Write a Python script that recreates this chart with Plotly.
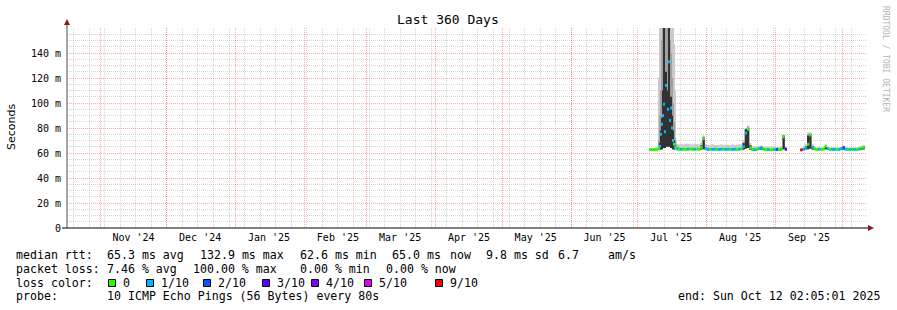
import numpy as np
import pandas as pd
import plotly.graph_objects as go

# ---------------- data ----------------
WINDOW_START = "2024-10-17 02:05:01"
WINDOW_DAYS = 360

# sample times (days after window start): daily, half-daily around the big spike
sample_days = ([263, 264, 265, 266]
               + [266.5, 267, 267.5, 268, 268.5, 269, 269.5, 270, 270.5,
                  271, 271.5, 272, 272.5, 273, 273.5, 274, 274.5, 275]
               + list(range(276, 360)))

N = None
median_ms = ([62.8, 62.7, 62.8, 62.9]
             + [63.5, 65.4, 75, 83, 90, 99, 77, 114, 95, 132.9, 86, 96, 80, 70, 67, 64.5, 63.5, 63.2]
             + [63.0, 62.9, 63.1, 62.8, 63.0, 63.2, 62.9, 63.0, 63.1, 62.9, 64.5, 71.5]
             + [63.5, 62.8, 62.9, 62.8, 63.0, 62.9, 62.8, 63.0, 62.9, 62.8, 63.0, 62.9]
             + [62.8, 63.0, 62.9, 63.0, 63.2, 65.0, 76.0, 79.0, 64.0, 62.8, 62.7, 62.8]
             + [63.5, 64.5, 63.0, 62.7, 62.8, 62.7, 62.8, 62.7, 62.8, 62.7, 63.0, 73.0]
             + [63.0, N, N, N, N, N, N, 62.5, 63.0, 64.5, 67.0, 74.5]
             + [64.5, 63.2, 62.8, 63.0, 62.8, 63.2, 65.5, 63.5, 62.8, 62.9, 62.8, 63.0]
             + [62.8, 63.5, 64.5, 63.0, 62.8, 62.8, 62.9, 62.8, 62.8, 63.2, 64.0, 64.8])

smoke_lo = ([62.4, 62.4, 62.4, 62.5]
            + [62.5, 62.8, 63, 63, 64, 64, 64, 65, 65, 66, 65, 64, 64, 63, 63, 62.8, 62.6, 62.6]
            + [62.5, 62.5, 62.6, 62.4, 62.5, 62.6, 62.5, 62.5, 62.6, 62.5, 62.8, 63.0]
            + [62.6, 62.4, 62.5, 62.4, 62.5, 62.5, 62.4, 62.5, 62.5, 62.4, 62.5, 62.5]
            + [62.4, 62.5, 62.5, 62.5, 62.6, 62.8, 63.5, 64.0, 62.6, 62.4, 62.3, 62.4]
            + [62.5, 62.8, 62.4, 62.3, 62.4, 62.3, 62.4, 62.3, 62.4, 62.3, 62.5, 63.0]
            + [62.5, N, N, N, N, N, N, 62.2, 62.5, 62.8, 63.0, 63.5]
            + [62.8, 62.5, 62.4, 62.5, 62.4, 62.5, 63.0, 62.6, 62.4, 62.5, 62.4, 62.5]
            + [62.4, 62.6, 62.8, 62.5, 62.4, 62.4, 62.5, 62.4, 62.4, 62.5, 62.8, 63.0])

smoke_core = ([63.2, 63.2, 63.2, 63.4]
              + [64, 68, 78, 88, 110, 170, 95, 125, 110, 170, 100, 105, 90, 78, 70, 66, 64, 63.5]
              + [63.5, 63.5, 63.6, 63.4, 63.5, 63.7, 63.4, 63.5, 63.6, 63.6, 66.0, 72.5]
              + [64.0, 63.4, 63.4, 63.4, 63.5, 63.4, 63.4, 63.5, 63.4, 63.4, 63.5, 63.4]
              + [63.4, 63.5, 63.4, 63.5, 63.8, 68.0, 79.0, 80.0, 66.0, 63.2, 63.2, 63.2]
              + [64.0, 64.8, 63.4, 63.2, 63.2, 63.2, 63.2, 63.2, 63.2, 63.2, 63.5, 74.0]
              + [64.0, N, N, N, N, N, N, 63.0, 63.5, 65.0, 74.0, 75.0]
              + [65.5, 63.5, 63.2, 63.3, 63.2, 63.5, 65.6, 63.6, 63.2, 63.3, 63.2, 63.3]
              + [63.2, 63.6, 64.5, 63.3, 63.2, 63.2, 63.3, 63.2, 63.2, 63.5, 64.0, 65.0])

smoke_mid = ([63.2, 63.2, 63.2, 63.4]
             + [70, 90, 110, 150, 170, 170, 170, 170, 170, 170, 150, 140, 120, 100, 85, 72, 67, 65]
             + [63.5, 63.5, 63.6, 63.4, 63.5, 63.7, 63.4, 63.5, 63.6, 63.6, 66.5, 73.0]
             + [64.0, 63.4, 63.4, 63.4, 63.5, 63.4, 63.4, 63.5, 63.4, 63.4, 63.5, 63.4]
             + [63.4, 63.5, 63.4, 63.5, 63.8, 68.5, 79.5, 81.0, 66.5, 63.2, 63.2, 63.2]
             + [64.0, 64.8, 63.4, 63.2, 63.2, 63.2, 63.2, 63.2, 63.2, 63.2, 63.5, 74.2]
             + [64.0, N, N, N, N, N, N, 63.0, 63.5, 65.5, 74.5, 75.5]
             + [65.5, 63.5, 63.2, 63.3, 63.2, 63.5, 65.6, 63.6, 63.2, 63.3, 63.2, 63.3]
             + [63.2, 63.6, 64.5, 63.3, 63.2, 63.2, 63.3, 63.2, 63.2, 63.5, 64.0, 65.0])

smoke_hi = ([63.6, 63.6, 63.8, 64.5]
            + [120, 170, 170, 170, 170, 170, 170, 170, 170, 170, 170, 170, 170, 170, 147, 110, 70, 67]
            + [67.0, 67.5, 67.0, 67.5, 67.5, 67.0, 67.0, 67.5, 67.0, 67.0, 69.0, 74.0]
            + [67.0, 66.5, 66.5, 67.0, 66.5, 66.5, 66.5, 67.0, 66.5, 66.5, 66.5, 66.5]
            + [67.0, 66.5, 66.5, 67.0, 67.0, 70.0, 80.0, 82.0, 68.0, 65.5, 65.5, 65.5]
            + [65.5, 65.5, 65.0, 65.0, 65.0, 65.0, 65.0, 65.0, 65.0, 65.0, 65.5, 74.5]
            + [65.0, N, N, N, N, N, N, 63.5, 64.5, 67.0, 76.5, 76.5]
            + [67.0, 65.0, 64.5, 64.5, 64.5, 64.5, 66.0, 64.5, 64.5, 64.5, 64.5, 64.5]
            + [64.5, 64.5, 65.0, 64.5, 64.5, 64.5, 64.5, 64.5, 64.5, 64.5, 65.0, 65.5])

# loss class index per sample (0 = no loss, 1 = 1/10, ... 6 = 9/10)
loss_class = ([0, 0, 0, 0]
              + [0, 1, 1, 1, 1, 1, 1, 1, 1, 1, 1, 1, 1, 1, 0, 1, 0, 1]
              + [0, 1, 0, 0, 1, 0, 0, 1, 0, 0, 0, 0]
              + [1, 1, 0, 1, 1, 0, 1, 1, 0, 1, 1, 0]
              + [1, 1, 0, 1, 0, 1, 1, 0, 0, 0, 1, 0]
              + [1, 1, 0, 0, 1, 0, 0, 1, 2, 0, 0, 0]
              + [3, N, N, N, N, N, N, 6, 1, 1, 0, 0]
              + [1, 0, 0, 1, 0, 0, 0, 1, 0, 1, 1, 0]
              + [1, 1, 2, 1, 0, 1, 0, 1, 0, 1, 0, 0])

LOSS_COLORS = ["#26ff00", "#00b8ff", "#0059ff", "#5e00ff", "#7e00ff", "#dd00ff", "#ff0000"]
LOSS_LABELS = ["0", "1/10", "2/10", "3/10", "4/10", "5/10", "9/10"]

Y_TICKS = [0, 20, 40, 60, 80, 100, 120, 140]
Y_TICK_TEXT = ["0", "20 m", "40 m", "60 m", "80 m", "100 m", "120 m", "140 m"]
Y_MINOR = [v for v in range(5, 160, 5) if v % 20 != 0]

MONTH_LABELS = ["Nov '24", "Dec '24", "Jan '25", "Feb '25", "Mar '25", "Apr '25",
                "May '25", "Jun '25", "Jul '25", "Aug '25", "Sep '25"]
MONTH_LABEL_DATES = ["2024-11-16", "2024-12-16", "2025-01-16", "2025-02-16", "2025-03-16",
                     "2025-04-16", "2025-05-16", "2025-06-16", "2025-07-16", "2025-08-16",
                     "2025-09-16"]

RTT_LINE = ["median rtt:", "65.3 ms avg", "132.9 ms max", "62.6 ms min", "65.0 ms",
            "now", "9.8 ms sd", "6.7", "am/s"]
LOSS_LINE = ["packet loss:", "7.46 % avg", "100.00 % max", "0.00 % min", "0.00 % now"]
PROBE_TEXT = "10 ICMP Echo Pings (56 Bytes) every 80s"
END_TEXT = "end: Sun Oct 12 02:05:01 2025"
TITLE = "Last 360 Days"

# ---------------- geometry ----------------
W, H = 897, 310
L, R, T, B = 67, 30, 28, 82
PW, PH = W - L - R, H - T - B


def px(X):
    return (X - L) / PW


def py(Y):
    return (H - B - Y) / PH


MONO = "DejaVu Sans Mono"

t0 = pd.Timestamp(WINDOW_START)
t_end = t0 + pd.Timedelta(days=WINDOW_DAYS)
times = t0 + pd.to_timedelta(sample_days, unit="D")
step = np.diff([sample_days[0] - 1] + sample_days) * 86400000.0
widths = list(step)
offsets = list(-step)


def span(top, bot):
    return [None if (a is None or b is None) else a - b for a, b in zip(top, bot)]


fig = go.Figure()
for arr, col in [(smoke_hi, "#cacaca"), (smoke_mid, "#a0a0a0"), (smoke_core, "#323232")]:
    fig.add_trace(go.Bar(x=times, y=span(arr, smoke_lo), base=smoke_lo, width=widths,
                         offset=offsets, marker=dict(color=col, line=dict(width=0)),
                         showlegend=False, hoverinfo="skip"))

LINE_MS = 2.4  # 3px thick median line
med_base = [None if m is None else m - LINE_MS / 2 for m in median_ms]
med_h = [None if m is None else LINE_MS for m in median_ms]
med_col = ["rgba(0,0,0,0)" if c is None else LOSS_COLORS[c] for c in loss_class]
fig.add_trace(go.Bar(x=times, y=med_h, base=med_base, width=widths, offset=offsets,
                     marker=dict(color=med_col, line=dict(width=0)), xaxis="x2",
                     showlegend=False, hoverinfo="skip"))

MAJOR = "rgba(255,0,0,0.35)"
MINOR = "rgba(120,120,120,0.30)"
DASH = "1px,1px"

month_starts = pd.date_range("2024-11-01", t_end, freq="MS")
sundays = pd.date_range("2024-10-20", t_end, freq="7D")

fig.update_layout(
    width=W, height=H, margin=dict(l=L, r=R, t=T, b=B, pad=0),
    paper_bgcolor="white", plot_bgcolor="white", barmode="overlay",
    hovermode=False, showlegend=False,
    xaxis=dict(type="date", range=[t0, t_end], domain=[0, 1], anchor="y",
               tickvals=list(month_starts), showticklabels=False, ticks="",
               showgrid=True, gridcolor=MAJOR, griddash=DASH, gridwidth=1,
               minor=dict(tickvals=list(sundays), showgrid=True, gridcolor=MINOR,
                          griddash=DASH, gridwidth=1, ticks=""),
               zeroline=False, showline=False, fixedrange=True),
    xaxis2=dict(type="date", range=[t0, t_end], overlaying="x", anchor="y", side="bottom",
                tickvals=MONTH_LABEL_DATES, ticktext=MONTH_LABELS, ticks="",
                showgrid=False, zeroline=False, showline=False, ticklabelstandoff=2,
                tickfont=dict(family=MONO, size=10, color="black"), fixedrange=True),
    yaxis=dict(range=[0, 160], domain=[0, 1], tickvals=Y_TICKS, ticktext=Y_TICK_TEXT,
               ticks="", showgrid=True, gridcolor=MAJOR, griddash=DASH, gridwidth=1,
               minor=dict(tickvals=Y_MINOR, showgrid=True, gridcolor=MINOR,
                          griddash=DASH, gridwidth=1, ticks=""),
               zeroline=False, showline=False, ticklabelstandoff=5,
               tickfont=dict(family=MONO, size=10, color="black"), fixedrange=True),
)

shapes = [
    dict(type="line", xref="paper", yref="paper", x0=px(67), x1=px(67), y0=py(228), y1=py(24),
         line=dict(color="#505050", width=1)),
    dict(type="line", xref="paper", yref="paper", x0=px(62), x1=px(868), y0=py(228), y1=py(228),
         line=dict(color="black", width=1)),
    dict(type="path", xref="paper", yref="paper",
         path=f"M {px(64)} {py(25)} L {px(70)} {py(25)} L {px(67)} {py(19)} Z",
         fillcolor="#8b1a1a", line=dict(width=0)),
    dict(type="path", xref="paper", yref="paper",
         path=f"M {px(868)} {py(225)} L {px(868)} {py(231)} L {px(874)} {py(228)} Z",
         fillcolor="#8b1a1a", line=dict(width=0)),
]

ann = []


def text(X, Y, s, size=11.6, anchor="left", family=MONO, color="black", angle=0):
    ann.append(dict(xref="paper", yref="paper", x=px(X), y=py(Y), text=s, showarrow=False,
                    xanchor=anchor, yanchor="middle", textangle=angle, borderpad=0,
                    font=dict(family=family, size=size, color=color)))


text(448, 19, TITLE, size=13, anchor="center")
text(11, 127, "Seconds", size=11, anchor="center", family="DejaVu Sans", angle=-90)
text(886, 59, "RRDTOOL / TOBI OETIKER", size=8, anchor="center", color="#b4b4b4", angle=90)

rtt_x = [16, 107, 199.5, 300, 392, 450, 486, 558, 608]
for X, s in zip(rtt_x, RTT_LINE):
    text(X - 1, 255, s)
loss_x = [16, 107, 193, 300, 386]
for X, s in zip(loss_x, LOSS_LINE):
    text(X - 1, 268.5, s)
text(15, 282.5, "loss color:")
sq_x = [108, 146, 203, 262, 311, 364, 435]
lab_x = [122.5, 160.5, 218, 276.5, 326, 379, 450]
for X, lx, c, s in zip(sq_x, lab_x, LOSS_COLORS, LOSS_LABELS):
    shapes.append(dict(type="rect", xref="paper", yref="paper", x0=px(X + 0.5), x1=px(X + 7.5),
                       y0=py(279.5), y1=py(286.5), fillcolor=c,
                       line=dict(color="black", width=1)))
    text(lx - 1, 282.5, s)
text(15, 296, "probe:")
text(106, 296, PROBE_TEXT)
text(881, 296, END_TEXT, anchor="right")

fig.update_layout(shapes=shapes, annotations=ann)
fig.write_html("out.html", config={"displayModeBar": False})
